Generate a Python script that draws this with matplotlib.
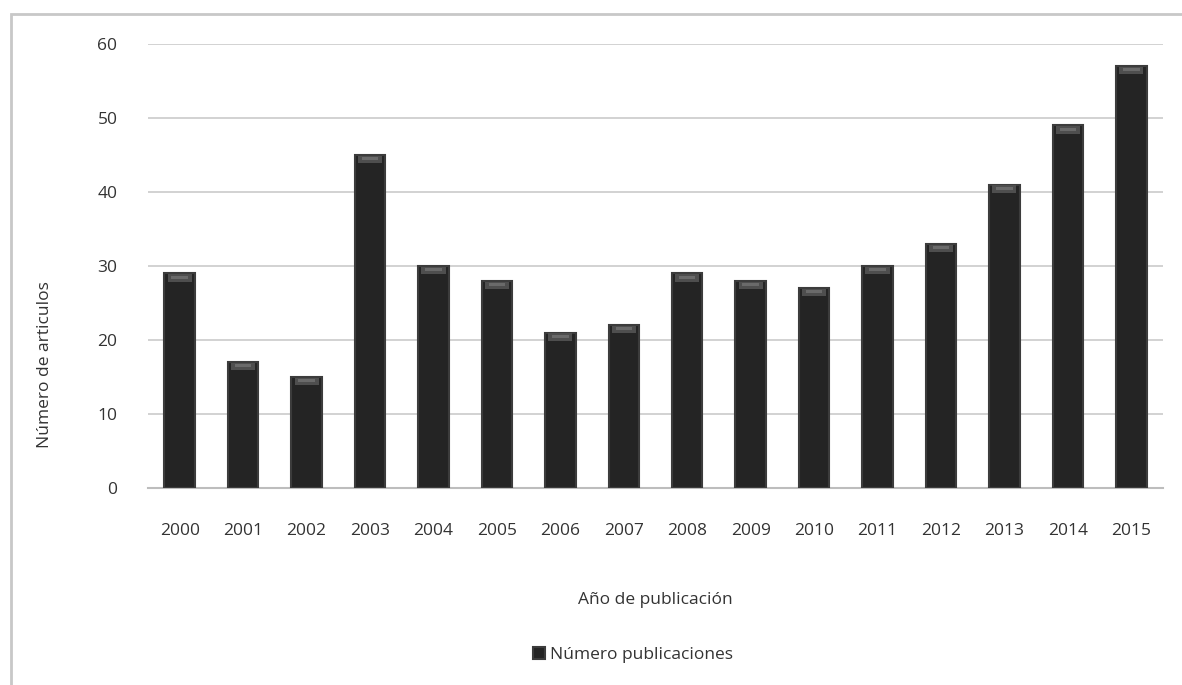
import matplotlib
matplotlib.use("Agg")
import matplotlib.pyplot as plt
from matplotlib.patches import Rectangle

plt.rcParams['font.family'] = ['Open Sans', 'DejaVu Sans']

# data
years = ['2000', '2001', '2002', '2003', '2004', '2005', '2006', '2007',
         '2008', '2009', '2010', '2011', '2012', '2013', '2014', '2015']
publicaciones = [29, 17, 15, 45, 30, 28, 21, 22, 29, 28, 27, 30, 33, 41, 49, 57]
yticks = [0, 10, 20, 30, 40, 50, 60]

fig = plt.figure(figsize=(11.82, 6.85), dpi=100)
ax = fig.add_axes([148/1182, 197/685, 1015/1182, 444/685])

x = range(len(years))
bars = ax.bar(x, publicaciones, width=0.48, color='#242424', edgecolor='#3c3c3c',
              linewidth=1.5, zorder=3, label='Número publicaciones')
# soft bevel at the top of each bar
ax.bar(x, [1.0] * len(years), bottom=[v - 1.1 for v in publicaciones], width=0.38,
       color='#4e4e4e', linewidth=0, zorder=4)
ax.bar(x, [0.4] * len(years), bottom=[v - 0.7 for v in publicaciones], width=0.26,
       color='#6a6a6a', linewidth=0, zorder=4)

ax.set_xlim(-0.5, len(years) - 0.5)
ax.set_ylim(0, 60)
ax.set_yticks(yticks)
ax.set_xticks(list(x))
ax.set_xticklabels(years)
ax.yaxis.grid(True, color='#cfcfcf', linewidth=1.3, zorder=0)
ax.set_axisbelow(True)
for s in ['top', 'right', 'left']:
    ax.spines[s].set_visible(False)
ax.spines['bottom'].set_color('#bdbdbd')
ax.spines['bottom'].set_linewidth(1.5)
ax.tick_params(length=0, labelsize=12.5, colors='#333333')
ax.tick_params(axis='x', pad=25)
ax.tick_params(axis='y', pad=22)

fig.text(45/1182, 1 - 365/685, 'Número de articulos', rotation=90, ha='center',
         va='center', fontsize=12.5, color='#333333')
fig.text(655/1182, 1 - 600/685, 'Año de publicación', ha='center', va='center',
         fontsize=12.5, color='#333333')

fig.legend(handles=[bars], loc='center', bbox_to_anchor=(633/1182, 1 - 655/685),
           frameon=False, fontsize=12.5, handlelength=0.7, handleheight=0.7,
           handletextpad=0.3, labelcolor='#333333')

# outer chart border (only top and left fall inside the picture)
fig.add_artist(Rectangle((11/1182, -0.1), 1.2, 1.1 - 14/685,
                         transform=fig.transFigure, fill=False,
                         edgecolor='#c8c8c8', linewidth=2))

fig.savefig('out.png', dpi=100)
